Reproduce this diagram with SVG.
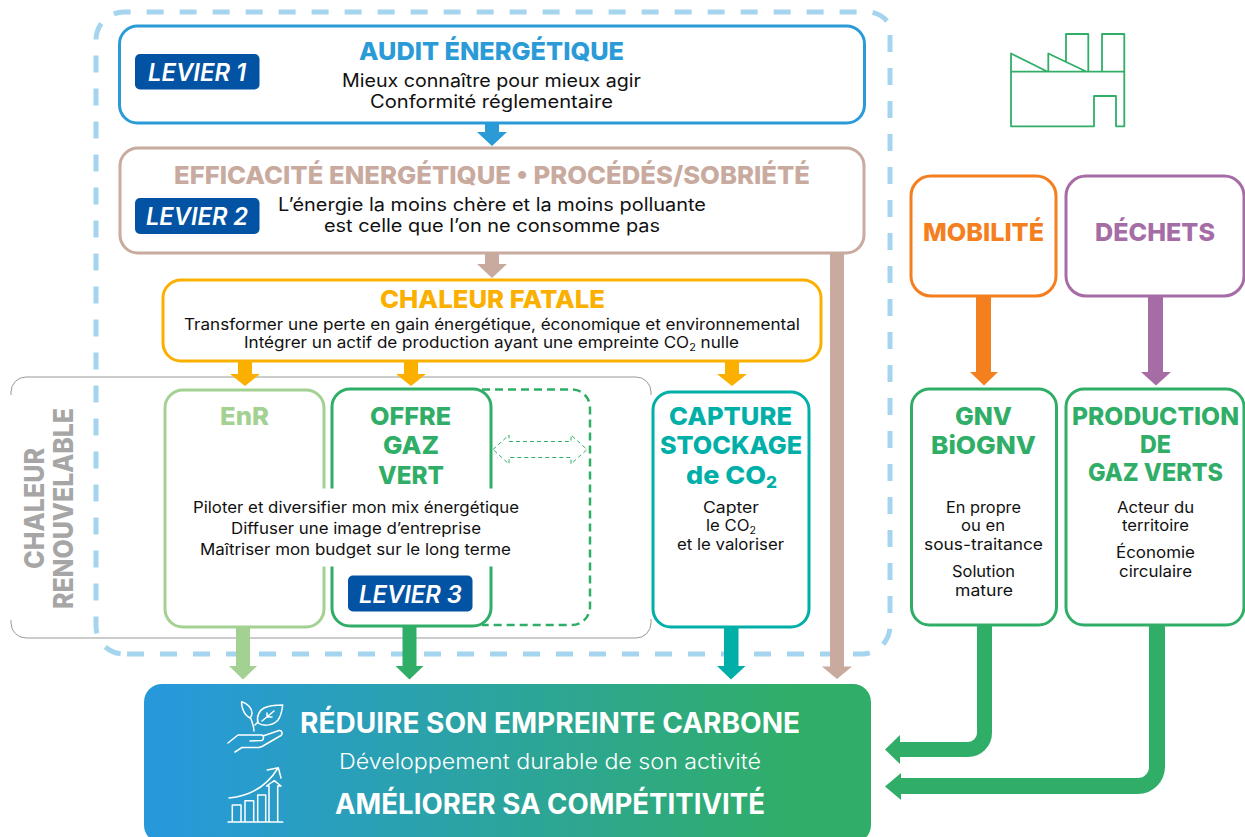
<svg xmlns="http://www.w3.org/2000/svg" width="1245" height="837" viewBox="0 0 1245 837">
<style>
text{font-family:"Inter","Open Sans","Liberation Sans",sans-serif;text-anchor:middle}
.b{font-weight:800}
.d{font-size:18px;fill:#111}
.s{font-size:15.7px;fill:#111}
.t{font-size:25px;font-weight:800}
.lev{font-size:24px;font-weight:600;font-style:italic;fill:#fff}
.box{fill:#fff;stroke-width:3}
.pill{fill:#0353A4}
.ic{fill:none;stroke:#fff;stroke-width:1.5;stroke-linejoin:round;stroke-linecap:round}
.fac{fill:none;stroke:#30AE67;stroke-width:1.8;stroke-linejoin:round}
.out{fill:none;stroke:#A5D5EE;stroke-width:5;stroke-dasharray:17 16}
</style>
<defs>
<linearGradient id="g" x1="0" x2="1" y1="0" y2="0"><stop offset="0.03" stop-color="#2799DB"/><stop offset="0.9" stop-color="#30AE67"/></linearGradient>
</defs>
<g id="outer">
<path class="out" d="M127 654H862a28 28 0 0 0 28-28V35"/>
<path class="out" d="M887 21A28 28 0 0 0 862 12H124a28 28 0 0 0-28 28V626a28 28 0 0 0 28 28"/>
</g>
<g id="renouvelable"><path d="M11 395V392a15 15 0 0 1 15-15H636a15 15 0 0 1 15 15V395M11 620V623a15 15 0 0 0 15 15H636a15 15 0 0 0 15-15V619" fill="none" stroke="#999" stroke-width="1"/>
<text class="b" font-size="27" fill="#A6A6A6" textLength="121" lengthAdjust="spacingAndGlyphs" transform="translate(43.500 508.500) rotate(-90)">CHALEUR</text>
<text class="b" font-size="27" fill="#A6A6A6" textLength="201" lengthAdjust="spacingAndGlyphs" transform="translate(72.700 508.500) rotate(-90)">RENOUVELABLE</text></g>
<g id="connectors">
<path fill="#2B9BD8" d="M485 123h14v9h8l-15 14-15-14h8z"/>
<path fill="#C9AA9E" d="M485 253h14v11h8l-15 14-15-14h8z"/>
<path fill="#FBB000" d="M238 361h14v13h8l-15 12-15-12h8zM404 361h14v13h8l-15 12-15-12h8zM725 361h14v13h8l-15 12-15-12h8z"/>
<path fill="#A3D192" d="M236 627h14v39h7l-14 13.500-14-13.500h7z"/>
<path fill="#30AE67" d="M402.500 626h14v40h7l-14 13.500-14-13.500h7z"/>
<path fill="#00AFA8" d="M724 627h14.500v39h7l-14.500 13.500-14-13.500h7z"/>
<path fill="#C9AA9E" d="M830 253h14v413.500h8l-15 12.500-15-12.500h8z"/>
<path fill="#F47F1E" d="M976 296h15v76h7l-14 13.500-14-13.500h6z"/>
<path fill="#A66CA5" d="M1148 296h15v76h8l-15 13.500-15-13.500h7z"/>
<path fill="#30AE67" d="M977 625H992V733A24 24 0 0 1 968 757H900V764L885 749.500L900 735V742H968A9 9 0 0 0 977 733Z"/>
<path fill="#30AE67" d="M1149 625H1165V767A27 27 0 0 1 1138 794H901V800L885 786.500L901 773V778H1138A11 11 0 0 0 1149 767Z"/>
</g>
<g id="audit"><rect class="box" stroke="#2B9BD8" x="119.500" y="26" width="745" height="97" rx="18"/>
<text class="t" x="491.500" y="60" fill="#2B9BD8" textLength="265" lengthAdjust="spacingAndGlyphs">AUDIT ÉNERGÉTIQUE</text>
<text class="d" x="491.500" y="87" textLength="299" lengthAdjust="spacingAndGlyphs">Mieux connaître pour mieux agir</text>
<text class="d" x="491.500" y="108" textLength="243" lengthAdjust="spacingAndGlyphs">Conformité réglementaire</text>
<rect class="pill" x="135" y="54" width="124.500" height="35.500" rx="5"/><text class="lev" x="197" y="81" textLength="98" lengthAdjust="spacingAndGlyphs">LEVIER 1</text></g>
<g id="efficacite"><rect class="box" stroke="#C9AA9E" x="120" y="148" width="744" height="105" rx="18"/>
<text class="t" x="492" y="184" fill="#C9AA9E" textLength="636" lengthAdjust="spacingAndGlyphs">EFFICACITÉ ENERGÉTIQUE • PROCÉDÉS/SOBRIÉTÉ</text>
<text class="d" x="492" y="211" textLength="428" lengthAdjust="spacingAndGlyphs">L’énergie la moins chère et la moins polluante</text>
<text class="d" x="492" y="232" textLength="336" lengthAdjust="spacingAndGlyphs">est celle que l’on ne consomme pas</text>
<rect class="pill" x="135" y="198" width="124.500" height="36" rx="5"/><text class="lev" x="197" y="225" textLength="102" lengthAdjust="spacingAndGlyphs">LEVIER 2</text></g>
<g id="fatale"><rect class="box" stroke="#FBB000" x="163" y="280" width="658" height="81" rx="18"/>
<text class="t" x="492.500" y="308" fill="#FBB000" textLength="225" lengthAdjust="spacingAndGlyphs">CHALEUR FATALE</text>
<text class="s" x="492" y="330" textLength="616" lengthAdjust="spacingAndGlyphs">Transformer une perte en gain énergétique, économique et environnemental</text>
<text class="s" x="491.500" y="348" textLength="495" lengthAdjust="spacingAndGlyphs">Intégrer un actif de production ayant une empreinte CO<tspan font-size="10" dy="3">2</tspan><tspan dy="-3"> nulle</tspan></text></g>
<g id="enr"><rect class="box" stroke="#A3D192" x="165" y="390" width="159" height="237" rx="18"/>
<text class="t" x="244.500" y="425" fill="#A3D192" textLength="49" lengthAdjust="spacingAndGlyphs">EnR</text></g>
<g id="offre-dash"><path d="M482 389.500H572a18 18 0 0 1 18 18V607a18 18 0 0 1-18 18H482" fill="none" stroke="#30AE67" stroke-width="2.500" stroke-dasharray="8 5"/></g>
<g id="offre"><rect class="box" stroke="#30AE67" x="332" y="389" width="159" height="237" rx="18"/>
<text class="t" x="410.500" y="425" fill="#30AE67" textLength="81" lengthAdjust="spacingAndGlyphs">OFFRE</text>
<text class="t" x="411" y="454" fill="#30AE67" textLength="56" lengthAdjust="spacingAndGlyphs">GAZ</text>
<text class="t" x="411" y="484" fill="#30AE67" textLength="66" lengthAdjust="spacingAndGlyphs">VERT</text>
<rect x="170" y="488.500" width="352" height="78" fill="#fff"/>
<text class="s" x="356" y="512.500" textLength="326" lengthAdjust="spacingAndGlyphs">Piloter et diversifier mon mix énergétique</text>
<text class="s" x="356" y="533.500" textLength="250" lengthAdjust="spacingAndGlyphs">Diffuser une image d’entreprise</text>
<text class="s" x="355.500" y="554.500" textLength="311" lengthAdjust="spacingAndGlyphs">Maîtriser mon budget sur le long terme</text>
<rect class="pill" x="348" y="575.500" width="124.500" height="36" rx="5"/><text class="lev" x="410.500" y="603" textLength="103" lengthAdjust="spacingAndGlyphs">LEVIER 3</text></g>
<path id="double-arrow" d="M493 449.500L509 435V441.500H571V435L587 449.500L571 464V457.500H509V464Z" fill="none" stroke="#30AE67" stroke-width="1" stroke-dasharray="4 3"/>
<g id="capture"><rect class="box" stroke="#00AFA8" x="653" y="392" width="156" height="235" rx="18"/>
<text class="t" x="730.500" y="425" fill="#00AFA8" textLength="123" lengthAdjust="spacingAndGlyphs">CAPTURE</text>
<text class="t" x="731" y="454" fill="#00AFA8" textLength="142" lengthAdjust="spacingAndGlyphs">STOCKAGE</text>
<text class="t" x="731.500" y="484" fill="#00AFA8" textLength="91" lengthAdjust="spacingAndGlyphs">de CO<tspan font-size="16" dy="4">2</tspan></text>
<text class="s" x="731" y="513" textLength="56" lengthAdjust="spacingAndGlyphs">Capter</text>
<text class="s" x="731" y="531" textLength="50" lengthAdjust="spacingAndGlyphs">le CO<tspan font-size="10" dy="3">2</tspan></text>
<text class="s" x="730.500" y="550" textLength="107" lengthAdjust="spacingAndGlyphs">et le valoriser</text></g>
<g id="mobilite"><rect class="box" stroke="#F47F1E" x="911" y="176" width="145" height="120" rx="20"/>
<text class="t" x="983.500" y="241" fill="#F47F1E" textLength="121" lengthAdjust="spacingAndGlyphs">MOBILITÉ</text></g>
<g id="dechets"><rect class="box" stroke="#A66CA5" x="1066" y="176" width="178" height="120" rx="20"/>
<text class="t" x="1155" y="241" fill="#A66CA5" textLength="120" lengthAdjust="spacingAndGlyphs">DÉCHETS</text></g>
<g id="gnv"><rect class="box" stroke="#30AE67" x="911.500" y="389" width="145" height="236" rx="18"/>
<text class="t" x="983.500" y="425" fill="#30AE67" textLength="57" lengthAdjust="spacingAndGlyphs">GNV</text>
<text class="t" x="983.500" y="454" fill="#30AE67" textLength="105" lengthAdjust="spacingAndGlyphs">BiOGNV</text>
<text class="s" x="983.500" y="513" textLength="75" lengthAdjust="spacingAndGlyphs">En propre</text>
<text class="s" x="983" y="531" textLength="44" lengthAdjust="spacingAndGlyphs">ou en</text>
<text class="s" x="983.500" y="550" textLength="119" lengthAdjust="spacingAndGlyphs">sous-traitance</text>
<text class="s" x="983.500" y="577" textLength="63" lengthAdjust="spacingAndGlyphs">Solution</text>
<text class="s" x="984" y="596" textLength="58" lengthAdjust="spacingAndGlyphs">mature</text></g>
<g id="production"><rect class="box" stroke="#30AE67" x="1066" y="389" width="178" height="236" rx="18"/>
<text class="t" x="1155.500" y="425" fill="#30AE67" textLength="167" lengthAdjust="spacingAndGlyphs">PRODUCTION</text>
<text class="t" x="1155.500" y="453" fill="#30AE67" textLength="31" lengthAdjust="spacingAndGlyphs">DE</text>
<text class="t" x="1155.500" y="481" fill="#30AE67" textLength="135" lengthAdjust="spacingAndGlyphs">GAZ VERTS</text>
<text class="s" x="1155.500" y="513" textLength="77" lengthAdjust="spacingAndGlyphs">Acteur du</text>
<text class="s" x="1155.500" y="531" textLength="67" lengthAdjust="spacingAndGlyphs">territoire</text>
<text class="s" x="1155.500" y="558" textLength="79" lengthAdjust="spacingAndGlyphs">Économie</text>
<text class="s" x="1155.500" y="577" textLength="73" lengthAdjust="spacingAndGlyphs">circulaire</text></g>
<g id="factory"><path class="fac" d="M1011 71.700V126.300H1094V96H1116V126.300H1124.300V71.700ZM1011 71.700V53.500L1047.700 71.700M1048.300 71.700V53.500L1086.700 71.700M1066 62V34H1088.300V71.700M1102 71.700V34H1124.300V71.700"/></g>
<g id="result"><path d="M162 684H853a18 18 0 0 1 18 18V825a18 18 0 0 1-18 18H162a18 18 0 0 1-18-18V702a18 18 0 0 1 18-18z" fill="url(#g)"/>
<text class="b" x="550" y="733" font-size="28" fill="#fff" textLength="500" lengthAdjust="spacingAndGlyphs" style="font-weight:700">RÉDUIRE SON EMPREINTE CARBONE</text>
<text x="550" y="769" font-size="21" font-weight="300" fill="#fff" textLength="422" lengthAdjust="spacingAndGlyphs">Développement durable de son activité</text>
<text class="b" x="550" y="814" font-size="28" fill="#fff" textLength="430" lengthAdjust="spacingAndGlyphs" style="font-weight:700">AMÉLIORER SA COMPÉTITIVITÉ</text>
<g class="ic" id="icon-leaf"><path d="M228 743L238 735H261.700C264 735 264 740 262 740.500L250 741M263 736L279 730.500C282 730 283 734 281 735.500L262 746.500L259 747.500H242L235 752"/><path d="M254 731C254 726 252 722 250.700 718M255 725L258 722M250 718C245 716 241 708 241.700 701.700C247 703 252 708 252 713C252 715 251 717 250 718Z"/><path d="M258 723C256 716 260 710 264 708C270 705 277 705 282.700 705C282 711 281 716 278 720C274 725 264 727 258 723ZM262 721L274 711M267 717V713M267 717H272"/></g>
<g class="ic" id="icon-chart"><path d="M229 798C250 796 267 786 278 768M267.300 770L278.300 767.700L281 778"/><path d="M228 822H282.700M232.300 821V805H241V821M245 821V800.700H253.700V821M257.700 821V795H265.700V821M269 821V786H266.500L274.300 780.700L281 786H277.700V821"/></g></g>
</svg>
